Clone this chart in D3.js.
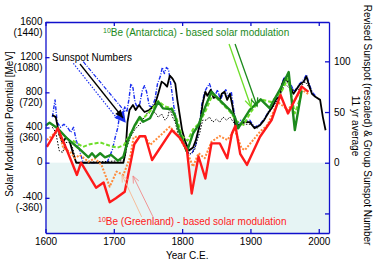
<!DOCTYPE html>
<html><head><meta charset="utf-8">
<script src="https://cdn.jsdelivr.net/npm/d3@7"></script>
<style>body{margin:0;background:#fff} svg{display:block} text{font-family:"Liberation Sans",Arial,sans-serif}</style>
</head><body><svg id="c" width="374" height="260"></svg>
<script>
// ---------- data ----------
const xTicks = [1600, 1700, 1800, 1900, 2000];
const leftTicks = [1600, 1200, 800, 400, 0, -400];
const leftTickLabels = ["1600", "1200", "800", "400", "0", "-400"];
const leftTickAlt = ["(1440)", "(1080)", "(720)", "(360)", "", "(-360)"];
const rightTicks = [-50, 0, 50, 100];
const rightTickLabels = ["", "0", "50", "100"];

// Greenland 10Be-based modulation (MeV)
const redYears = [1602,1618,1632,1646,1652,1674,1685,1694,1703,1716,1730,1738,1746,1756,1785,1797,1807,1814,1824,1834,1843,1855,1866,1873,1878,1885,1895,1914,1931,1944,1955,1975,1985];
const redValues = [180,390,130,-140,0,-285,-225,-450,-405,-330,210,300,300,30,370,280,145,-350,70,-180,220,220,50,335,420,100,-25,295,485,770,560,865,805];
// Greenland variant (dotted orange)
const orangeYears = [1602,1619,1626,1636,1643,1650,1663,1672,1682,1694,1704,1714,1724,1729,1745,1753,1782,1795,1807,1816,1824,1833,1843,1855,1866,1877,1887,1892,1904,1914,1925,1940,1955,1975,1985];
const orangeValues = [258,372,164,125,50,88,11,50,-26,-273,-102,-140,68,290,303,201,409,300,125,-45,107,50,238,303,258,372,164,144,258,352,430,690,600,830,780];
// Antarctica 10Be-based modulation (dark green)
const greenYears = [1600,1606,1617,1631,1648,1663,1668,1673,1680,1687,1696,1706,1714,1721,1731,1738,1743,1753,1765,1772,1785,1790,1794,1807,1816,1824,1833,1843,1855,1870,1877,1882,1899,1915,1928,1948,1956,1965,1975];
const greenValues = [420,455,395,280,167,61,107,61,107,61,88,23,68,258,430,520,466,505,693,618,607,523,391,125,334,428,618,807,712,598,523,390,600,720,620,900,1030,370,820];
// Antarctica variant (dashed light green)
const lgreenYears = [1640,1655,1665,1680,1695,1705,1715,1722,1735,1745,1755,1765,1775,1785,1792,1800,1808,1816,1825,1835,1845,1855,1870,1880,1890,1900,1915,1930,1945,1955,1965,1975];
const lgreenValues = [250,180,210,230,190,170,200,300,470,520,600,700,640,620,500,300,250,380,450,600,780,700,580,470,430,570,720,690,800,960,560,780];
// Revised sunspot number, rescaled, 11-yr average (black solid)
const ssnYears = [1610,1615,1620,1625,1630,1635,1640,1645,1714,1717,1720,1723,1728,1732,1737,1740,1745,1752,1760,1765,1770,1774,1778,1782,1786,1790,1793,1797,1800,1805,1810,1816,1820,1826,1830,1834,1837,1842,1846,1850,1855,1858,1862,1866,1870,1874,1878,1885,1892,1899,1906,1914,1920,1926,1932,1938,1943,1946,1950,1955,1958,1963,1968,1972,1978,1982,1985,1990,1995,2002,2006,2010];
const ssnValues = [47,45,28,20,25,22,10,0,0,10,40,52,57,52,57,54,50,52,57,68,80,78,75,86,83,78,62,45,32,20,12,15,22,38,58,70,66,72,64,65,62,68,70,62,68,55,36,38,40,40,34,37,42,49,55,63,65,77,83,80,75,68,73,77,80,85,78,68,65,62,45,32];
// Group sunspot number, 11-yr average (black dotted)
const gsnYears = [1610,1615,1620,1625,1630,1635,1640,1645,1715,1719,1724,1731,1738,1745,1750,1755,1760,1765,1770,1775,1779,1782,1786,1790,1795,1800,1806,1812,1818,1822,1826,1830,1835,1840,1845,1850,1855,1860,1865,1870,1875,1880,1890,1900,1910,1920,1930,1940,1950,1960,1970,1980,1990];
const gsnValues = [35,30,12,10,20,20,14,0,2,15,25,33,38,45,50,48,50,45,48,42,45,54,45,40,25,20,11,9,12,22,30,42,42,45,40,43,40,45,42,45,40,36,38,38,34,42,52,62,78,72,72,80,70];
// Sunspot number (blue dash-dot)
const blueYears = [1610,1614,1617,1622,1627,1632,1637,1641,1645,1650,1655,1690,1698,1702,1706,1709,1712,1716,1719,1722,1725,1728,1731,1734,1738,1742,1745,1748,1752,1756,1760,1764,1768,1771,1774,1777,1780,1784,1788,1792,1796,1800,1805,1810,1815,1820,1825,1829,1833,1837,1840,1844,1848,1852,1856,1860,1864,1868,1872,1876,1880,1886,1892,1899,1906,1914,1920,1926,1932,1938,1944,1947,1950,1955,1960,1964,1968,1972,1978,1982,1985,1990,1995];
const blueValues = [45,62,40,35,38,35,30,35,22,12,0,0,13,25,35,50,42,55,50,62,78,74,60,55,58,72,76,70,56,55,62,78,85,94,88,94,92,75,55,40,30,22,14,8,10,18,35,58,70,75,78,70,66,72,62,68,72,65,70,50,38,42,40,42,35,38,43,50,56,64,70,80,85,81,76,70,74,78,82,87,80,70,66];

// ---------- setup ----------
const svg = d3.select("#c");
const x = d3.scaleLinear().domain([1600, 2015]).range([45.5, 329]);
const yL = d3.scaleLinear().domain([-800, 1600]).range([233, 22]);
const yR = d3.scaleLinear().domain([-69.3, 138.8]).range([233, 22]);
const AX = "#1010cc";

svg.append("defs").append("clipPath").attr("id", "clip")
  .append("rect").attr("x", x(1600)).attr("y", yL(1600))
  .attr("width", x(2015) - x(1600)).attr("height", yL(-800) - yL(1600));

// shaded negative zone
svg.append("rect").attr("x", x(1600)).attr("y", yL(0))
  .attr("width", x(2015) - x(1600)).attr("height", yL(-800) - yL(0))
  .attr("fill", "#e6f4f4");

const g = svg.append("g").attr("clip-path", "url(#clip)");
function zipS(a, b) { return a.map((v, i) => [v, b[i]]); }
const lineL = d3.line().x(d => x(d[0])).y(d => yL(d[1]));
const lineR = d3.line().x(d => x(d[0])).y(d => yR(d[1]));

function draw(gen, data, color, w, dash) {
  g.append("path").datum(data).attr("d", gen).attr("fill", "none")
    .attr("stroke", color).attr("stroke-width", w)
    .attr("stroke-linejoin", "round")
    .attr("stroke-dasharray", dash || null);
}
draw(lineR, zipS(blueYears, blueValues), "#1a2ef0", 1.4, "4,1.5,1,1.5");
draw(lineR, zipS(gsnYears, gsnValues), "#000", 1, "1.5,1.5");
draw(lineR, zipS(ssnYears, ssnValues), "#000", 1.8);
draw(lineL, zipS(lgreenYears, lgreenValues), "#6ede2a", 2, "4,2");
draw(lineL, zipS(orangeYears, orangeValues), "#ff8a3a", 2, "2,1.5");
draw(lineL, zipS(greenYears, greenValues), "#1c8a1c", 2.4);
draw(lineL, zipS(redYears, redValues), "#ff1a1a", 2.4);

// ---------- axes ----------
function styleAxis(sel) {
  sel.selectAll("path,line").attr("stroke", AX).attr("stroke-width", 1.3);
  sel.selectAll("text").attr("fill", "#000").style("font-size", "10px")
    .style("font-family", '"Liberation Sans",Arial,sans-serif');
}
svg.append("g").attr("transform", `translate(0,${yL(-800)})`)
  .call(d3.axisBottom(x).tickValues(xTicks).tickSizeInner(-4).tickSizeOuter(0).tickPadding(5).tickFormat(d3.format("d")))
  .call(styleAxis);
svg.append("g").attr("transform", `translate(0,${yL(1600)})`)
  .call(d3.axisTop(x).tickValues(xTicks).tickSizeInner(-4).tickSizeOuter(0).tickFormat(""))
  .call(styleAxis);
svg.append("g").attr("transform", `translate(${x(1600)},0)`)
  .call(d3.axisLeft(yL).tickValues(leftTicks).tickSizeInner(-4).tickSizeOuter(0).tickFormat(""))
  .call(styleAxis);
svg.append("g").attr("transform", `translate(${x(2015)},0)`)
  .call(d3.axisRight(yR).tickValues(rightTicks).tickSizeInner(-4).tickSizeOuter(0).tickPadding(5)
    .tickFormat((d, i) => rightTickLabels[i]))
  .call(styleAxis);

// left tick labels (two-line)
const lt = svg.append("g").style("font-size", "10px").attr("text-anchor", "end");
leftTicks.forEach((v, i) => {
  lt.append("text").attr("x", 42.5).attr("y", yL(v) - 1).attr("dy", "0.35em").text(leftTickLabels[i]);
  if (leftTickAlt[i]) lt.append("text").attr("x", 42.5).attr("y", yL(v) + 10).attr("dy", "0.35em").text(leftTickAlt[i]);
});

// axis titles
svg.append("text").attr("transform", "translate(9,124) rotate(-90)").attr("text-anchor", "middle")
  .attr("dy", "0.35em").style("font-size", "10px").text("Solar Modulation Potential [MeV]");
svg.append("text").attr("transform", "translate(367,125) rotate(90)").attr("text-anchor", "middle")
  .attr("dy", "0.35em").style("font-size", "10px").text("Revised Sunspot (rescaled) & Group Sunspot Number");
svg.append("text").attr("transform", "translate(355,126) rotate(90)").attr("text-anchor", "middle")
  .attr("dy", "0.35em").style("font-size", "10px").text("11 yr average");
svg.append("text").attr("x", (x(1600) + x(2015)) / 2).attr("y", 255).attr("text-anchor", "middle")
  .attr("dy", "0.35em").style("font-size", "10px").text("Year C.E.");

// ---------- annotations ----------
function arrowHead(x1, y1, x2, y2, len, half, color, filled, w) {
  const dx = x2 - x1, dy = y2 - y1, L = Math.hypot(dx, dy), ux = dx / L, uy = dy / L;
  const bx = x2 - ux * len, by = y2 - uy * len;
  const p1 = [bx + uy * half, by - ux * half], p2 = [bx - uy * half, by + ux * half];
  if (filled) {
    svg.append("path").attr("d", `M${p1}L${x2},${y2}L${p2}Z`).attr("fill", color);
  } else {
    svg.append("path").attr("d", `M${p1}L${x2},${y2}L${p2}`).attr("fill", "none")
      .attr("stroke", color).attr("stroke-width", w);
  }
}
function arrow(a, b, color, w, dash, head) {
  const x1 = x(a[0]), y1 = yL(a[1]), x2 = x(b[0]), y2 = yL(b[1]);
  svg.append("line").attr("x1", x1).attr("y1", y1).attr("x2", x2).attr("y2", y2)
    .attr("stroke", color).attr("stroke-width", w).attr("stroke-dasharray", dash || null);
  if (head) arrowHead(x1, y1, x2, y2, head[0], head[1], color, head[2], w);
}

// Sunspot numbers
svg.append("text").attr("x", x(1609.5)).attr("y", yL(1200)).attr("dy", "0.35em")
  .style("font-size", "10px").text("Sunspot Numbers");
arrow([1640.7, 1130], [1706.6, 485], "#1a2ef0", 1.2, "1.5,1.5");
arrow([1655.3, 1148], [1716.4, 580], "#1a2ef0", 1.2, "4,1.5,1,1.5");
arrow([1650.5, 1122], [1717.5, 455], "#1a2ef0", 0, null, [11, 6, true]);
arrow([1650.5, 1122], [1713.5, 508], "#000", 1.3, null, [8, 3.5, true]);

// Antarctica
const tA = svg.append("text").attr("x", x(1684.2)).attr("y", yL(1440)).attr("dy", "0.35em")
  .style("font-size", "10px").attr("fill", "#1c8a1c");
tA.append("tspan").style("font-size", "7px").attr("dy", "-3").text("10");
tA.append("tspan").attr("dy", "3").text("Be (Antarctica) - based solar modulation");
arrow([1868.7, 1349], [1900.9, 633], "#6ede2a", 1.3, null, [8, 3.5, false]);
arrow([1877.5, 1349], [1909.7, 644], "#1c8a1c", 1.3, null, [8, 3.5, false]);

// Greenland
const tG = svg.append("text").attr("x", x(1676.9)).attr("y", yL(-708)).attr("dy", "0.35em")
  .style("font-size", "10px").attr("fill", "#ff1a1a");
tG.append("tspan").style("font-size", "7px").attr("dy", "-3").text("10");
tG.append("tspan").attr("dy", "3").text("Be (Greenland) - based solar modulation");
arrow([1740.8, -617], [1712, -140], "#f7b590", 0.9, null, [7, 3, false]);
arrow([1757.4, -617], [1728.1, -151], "#f08a8a", 0.9, null, [7, 3, false]);
</script></body></html>
